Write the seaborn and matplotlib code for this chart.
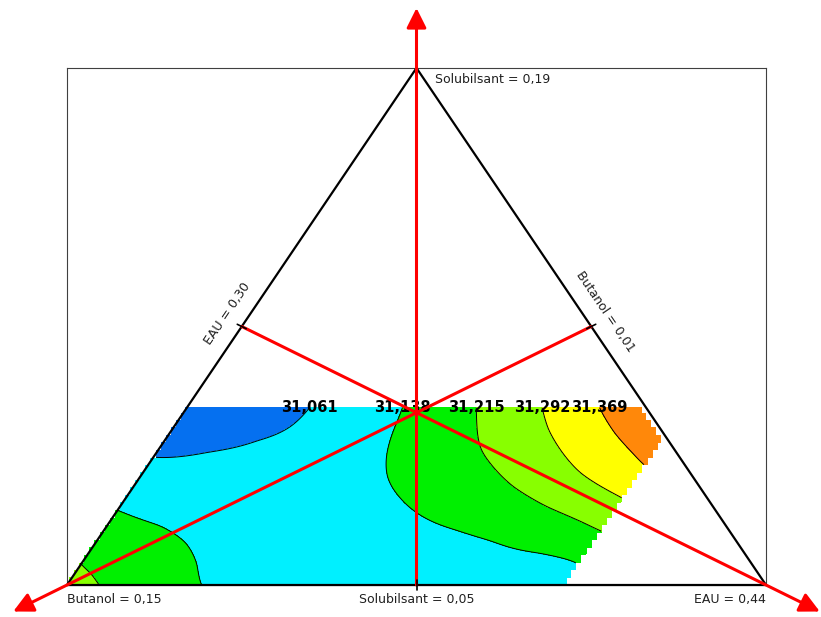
import numpy as np
import matplotlib
matplotlib.use("Agg")
import matplotlib.pyplot as plt
import seaborn as sns

# ---------------------------------------------------------------------------
# Mixture triangle: component bounds (mass fractions) of the pseudo-components
# ---------------------------------------------------------------------------
lower_solubilsant, upper_solubilsant = 0.05, 0.19
lower_butanol, upper_butanol = 0.01, 0.15
lower_eau, upper_eau = 0.30, 0.44

# Limits of the explored domain inside the triangle
solubilsant_max = 0.098
eau_max = 0.40

# Iso-response levels and their band colours (low -> high)
levels = [31.061, 31.138, 31.215, 31.292, 31.369]
band_colors = ["#0570f0", "#00f0ff", "#00f000", "#88ff00", "#ffff00", "#ff880a"]

# Response readings over the domain (Butanol is the balance to 0.50)
solubilsant = [
    0.0844, 0.0860, 0.0893, 0.0928, 0.0982,                          # 31.061
    0.0698, 0.0663, 0.0614, 0.0560, 0.0500,                          # 31.138 (left)
    0.0982, 0.0893, 0.0792, 0.0738, 0.0695, 0.0649, 0.0622, 0.0587, 0.0565,  # 31.138
    0.0546, 0.0530, 0.0500,                                          # 31.215 (left)
    0.0982, 0.0866, 0.0830, 0.0765, 0.0711, 0.0654,                  # 31.215
    0.0982, 0.0920, 0.0866, 0.0803, 0.0736,                          # 31.292
    0.0982, 0.0912, 0.0857, 0.0817,                                  # 31.369
    0.0982, 0.0920, 0.0784, 0.0568, 0.0947, 0.0527, 0.0510, 0.0839,
    0.0690, 0.0568, 0.0500, 0.0893, 0.0893, 0.0901, 0.0982, 0.0771,
    0.0500,
]
eau = [
    0.3001, 0.3101, 0.3185, 0.3234, 0.3247,
    0.3012, 0.3105, 0.3184, 0.3233, 0.3266,
    0.3433, 0.3451, 0.3495, 0.3548, 0.3604, 0.3707, 0.3787, 0.3904, 0.3989,
    0.3007, 0.3037, 0.3060,
    0.3579, 0.3645, 0.3683, 0.3761, 0.3856, 0.3977,
    0.3711, 0.3753, 0.3805, 0.3876, 0.3996,
    0.3824, 0.3889, 0.3956, 0.4000,
    0.3000, 0.3057, 0.3325, 0.3353, 0.3344, 0.3654, 0.3880, 0.3559,
    0.3773, 0.3073, 0.3000, 0.3712, 0.3852, 0.3968, 0.3902, 0.3031,
    0.3400,
]
response = [
    31.061, 31.061, 31.061, 31.061, 31.061,
    31.138, 31.138, 31.138, 31.138, 31.138,
    31.138, 31.138, 31.138, 31.138, 31.138, 31.138, 31.138, 31.138, 31.138,
    31.215, 31.215, 31.215,
    31.215, 31.215, 31.215, 31.215, 31.215, 31.215,
    31.292, 31.292, 31.292, 31.292, 31.292,
    31.369, 31.369, 31.369, 31.369,
    31.000, 31.035, 31.090, 31.100, 31.100, 31.115, 31.120, 31.175,
    31.170, 31.170, 31.270, 31.250, 31.330, 31.400, 31.410, 31.100,
    31.110,
]

span = upper_solubilsant - lower_solubilsant
fmt = lambda v, d=2: f"{v:.{d}f}".replace(".", ",")


def to_xy(s_frac, e_frac):
    """Composition -> cartesian position in the triangle (top vertex = Solubilsant)."""
    s = (np.asarray(s_frac) - lower_solubilsant) / span
    e = (np.asarray(e_frac) - lower_eau) / span
    return e + s / 2.0, s


# ---------------------------------------------------------------------------
# Smooth response surface: smoothing thin-plate spline through the readings
# ---------------------------------------------------------------------------
H = np.sqrt(3) / 2
smoothing = 1e-3


def tps_kernel(r):
    with np.errstate(divide="ignore", invalid="ignore"):
        k = r ** 2 * np.log(r)
    return np.where(r > 0, k, 0.0)


px, py = to_xy(solubilsant, eau)
pts = np.column_stack([px, py * H])
vals = np.asarray(response)
n = len(vals)
dist = np.hypot(pts[:, None, 0] - pts[None, :, 0], pts[:, None, 1] - pts[None, :, 1])
K = tps_kernel(dist) + smoothing * np.eye(n)
P = np.column_stack([np.ones(n), pts])
A = np.block([[K, P], [P.T, np.zeros((3, 3))]])
coef = np.linalg.solve(A, np.concatenate([vals, np.zeros(3)]))
w, a = coef[:n], coef[n:]


def surface(X, Y):
    Ym = Y * H
    Z = a[0] + a[1] * X + a[2] * Ym
    for (cx, cy), wi in zip(pts, w):
        Z = Z + wi * tps_kernel(np.hypot(X - cx, Ym - cy))
    return Z


s_top = (solubilsant_max - lower_solubilsant) / span
e_lim = (eau_max - lower_eau) / span

gx = np.linspace(0, 1, 1100)
gy = np.linspace(0, s_top, 300)
GX, GY = np.meshgrid(gx, gy)
Z = surface(GX, GY)

# Raster rows of the response map: each row is filled between the domain limits
ch = 0.0145
j = np.floor(GY / ch)
yb = j * ch
yt = np.minimum((j + 1) * ch, s_top)
ym = (yb + yt) / 2
x_left = ym / 2
x_right = np.minimum(1 - yt / 2 - 0.006, e_lim + yb / 2)
inside = (GX >= x_left) & (GX <= x_right)
Zm = np.ma.masked_where(~inside, Z)

# ---------------------------------------------------------------------------
# Figure
# ---------------------------------------------------------------------------
sns.set_theme(style="white")
plt.rcParams["font.family"] = ["DejaVu Sans"]
palette = sns.color_palette(band_colors)

fig = plt.figure(figsize=(8.21, 6.17), dpi=100)
ax = fig.add_axes([67 / 821, 32 / 617, 699 / 821, 517 / 617])
ax.set_xlim(0, 1)
ax.set_ylim(0, 1)
ax.set_xticks([])
ax.set_yticks([])
for sp in ax.spines.values():
    sp.set_color("#404040")
    sp.set_linewidth(0.8)

fill_levels = [min(Z.min(), levels[0]) - 1] + levels + [max(Z.max(), levels[-1]) + 1]
ax.contourf(GX, GY, Zm, levels=fill_levels, colors=palette, corner_mask=False,
            antialiased=False, zorder=1)
ax.contour(GX, GY, Zm, levels=levels, colors="black", linewidths=0.7,
           corner_mask=False, zorder=2)

# Triangle outline
verts = {"S": (0.5, 1.0), "B": (0.0, 0.0), "E": (1.0, 0.0)}
tri = np.array([verts["B"], verts["E"], verts["S"], verts["B"]])
ax.plot(tri[:, 0], tri[:, 1], color="black", lw=1.6, clip_on=False, zorder=4)

to_px = ax.transData.transform
to_data = ax.transData.inverted().transform

# Iso-response labels where each level meets the top of the domain
top_x = gx
top_z = Z[-1, :]
in_tri = (top_x >= s_top / 2) & (top_x <= 1 - s_top / 2)
for L in levels:
    d = np.where(in_tri, top_z - L, np.nan)
    idx = np.where((d[:-1] < 0) & (d[1:] >= 0))[0]
    if len(idx) == 0:
        continue
    k = idx[0]
    xc = top_x[k] + (top_x[k + 1] - top_x[k]) * (-d[k]) / (d[k + 1] - d[k])
    ax.text(xc, s_top, fmt(L, 3), ha="center", va="center", fontsize=10.5,
            fontweight="bold", color="black", zorder=5)

# Median axes (red) from each opposite-side midpoint through the vertex
mids = {
    "S": ((verts["B"][0] + verts["E"][0]) / 2, 0.0),
    "B": ((verts["E"][0] + verts["S"][0]) / 2, (verts["E"][1] + verts["S"][1]) / 2),
    "E": ((verts["B"][0] + verts["S"][0]) / 2, (verts["B"][1] + verts["S"][1]) / 2),
}
for key in ("S", "B", "E"):
    v_px = to_px(verts[key])
    m_px = to_px(mids[key])
    u = (v_px - m_px) / np.linalg.norm(v_px - m_px)
    tip = to_data(v_px + 60 * u)
    ax.annotate("", xy=tip, xytext=mids[key], annotation_clip=False,
                arrowprops=dict(arrowstyle="-|>,head_length=0.6,head_width=0.3",
                                color="#ff0000", lw=2.2, mutation_scale=20,
                                shrinkA=0, shrinkB=0), zorder=6)
    # small tick across the side at its midpoint
    a_px, b_px = m_px + 5 * u, m_px - 5 * u
    t = to_data(np.array([a_px, b_px]))
    ax.plot(t[:, 0], t[:, 1], color="black", lw=1.2, clip_on=False, zorder=7)

# Component labels
txt = dict(fontsize=9, color="#202020", annotation_clip=False,
           textcoords="offset pixels")
ax.annotate(f"Solubilsant = {fmt(upper_solubilsant)}", verts["S"], xytext=(18, -11),
            ha="left", va="center", **txt)
ax.annotate(f"Butanol = {fmt(upper_butanol)}", verts["B"], xytext=(0, -15),
            ha="left", va="center", **txt)
ax.annotate(f"Solubilsant = {fmt(lower_solubilsant)}", mids["S"], xytext=(0, -15),
            ha="center", va="center", **txt)
ax.annotate(f"EAU = {fmt(upper_eau)}", verts["E"], xytext=(0, -15),
            ha="right", va="center", **txt)

edge_ang = np.degrees(np.arctan2(*(to_px(verts["S"]) - to_px(verts["B"]))[::-1]))
ax.annotate(f"EAU = {fmt(lower_eau)}", mids["E"], xytext=(-14, 12.5),
            ha="center", va="center", rotation=edge_ang, rotation_mode="anchor", **txt)
ax.annotate(f"Butanol = {fmt(lower_butanol)}", mids["B"], xytext=(14, 14.5),
            ha="center", va="center", rotation=-edge_ang, rotation_mode="anchor", **txt)

fig.savefig("out.png", dpi=100, facecolor="white")
